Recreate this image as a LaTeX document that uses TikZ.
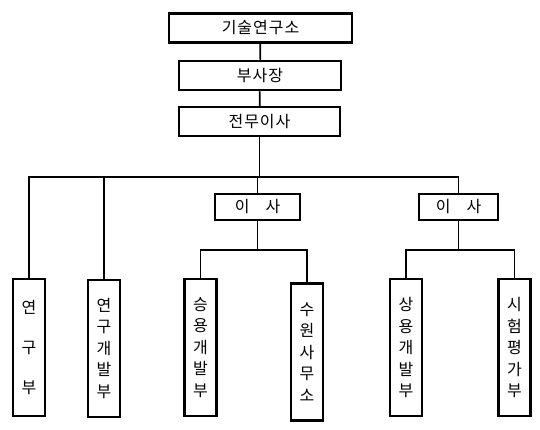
\documentclass[tikz,border=0pt]{standalone}
\usepackage{fontspec}
\usepackage{tikz}
\newfontfamily\kr[LetterSpace=6]{Noto Sans CJK KR}

\tikzset{
  hbox/.style={draw,line width=2.5pt,inner sep=0pt,minimum height=29pt,
    font=\kr\fontsize{16}{18}\selectfont},
  vbox/.style={draw,line width=2.5pt,inner sep=0pt,minimum width=32pt,
    minimum height=137pt,align=center,font=\kr\fontsize{16}{21.5}\selectfont},
  wire/.style={line width=1.8pt}
}

\begin{document}
\begin{tikzpicture}[x=1pt,y=-1pt]
        \useasboundingbox (0,0) rectangle (540,429);

        % top of the chart
        \node[hbox,minimum width=183pt] (gisul) at (260.5,28) {기술연구소};
        \node[hbox,minimum width=162pt] (busa) at (260,75.5) {부사장};
        \node[hbox,minimum width=161pt] (jeonmu) at (259.5,121.5) {전무이사};

        \draw[wire] (gisul) -- (busa);
        \draw[wire] (busa) -- (jeonmu);

        % directors
        \node[hbox,minimum width=85pt,minimum height=26pt] (isaa) at (257.5,207) {이\hspace{1em}사};
        \node[hbox,minimum width=79pt,minimum height=26pt] (isab) at (458.5,207) {이\hspace{1em}사};

        % departments
        \node[vbox,font=\kr\fontsize{16}{40}\selectfont] (yeongu) at (29,347.5) {연\\구\\부};
        \node[vbox] (gaebal) at (104,348.5) {연\\구\\개\\발\\부};
        \node[vbox] (seungyong) at (200.5,347.5) {승\\용\\개\\발\\부};
        \node[vbox] (suwon) at (307,352) {수\\원\\사\\무\\소};
        \node[vbox] (sangyong) at (406,347.5) {상\\용\\개\\발\\부};
        \node[vbox] (siheom) at (514.5,347.5) {시\\험\\평\\가\\부};

        % main bus
        \draw[wire] (jeonmu.south) -- ++(0,40) coordinate (bus);
        \draw[wire] (yeongu.north) |- (bus) -| (isab.north);
        \draw[wire] (isaa.north) -- (isaa.north |- bus);
        \coordinate (gtop) at (104,178);
        \draw[line width=1.2pt] (gtop) -- (gaebal.north);

        % under the directors
        \draw[wire] (isaa.south) -- ++(0,29) coordinate (suba);
        \draw[wire] (seungyong.north) |- (suba) -| (suwon.north);
        \draw[wire] (isab.south) -- ++(0,29) coordinate (subb);
        \draw[wire] (sangyong.north) |- (subb) -| (siheom.north);
    \end{tikzpicture}
\end{document}
